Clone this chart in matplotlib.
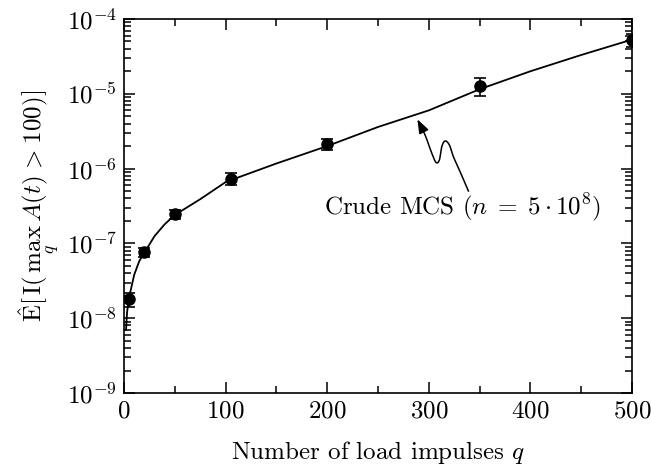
import numpy as np
import matplotlib
matplotlib.use('Agg')
import matplotlib.pyplot as plt
from matplotlib.ticker import NullFormatter

# curve: crude MCS estimate
q_curve = [2, 3, 5, 10, 15, 20, 30, 40, 50, 75, 100, 105, 150, 200, 250, 300, 350, 400, 450, 500]
p_curve = [7e-9, 1.2e-8, 1.9e-8, 3.8e-8, 5.8e-8, 7.5e-8, 1.25e-7, 1.8e-7, 2.4e-7, 3.9e-7,
           6.6e-7, 7.0e-7, 1.17e-6, 2.0e-6, 3.6e-6, 6.0e-6, 1.15e-5, 2.0e-5, 3.3e-5, 5.3e-5]

# points with error bars
q_pts = [5, 20, 50, 105, 200, 350, 500]
p_pts = [1.8e-8, 7.7e-8, 2.45e-7, 7.3e-7, 2.1e-6, 1.28e-5, 5.2e-5]
p_lo = [1.4e-8, 6.6e-8, 2.1e-7, 6.0e-7, 1.75e-6, 0.92e-5, 4.2e-5]
p_hi = [2.2e-8, 8.7e-8, 2.8e-7, 8.6e-7, 2.5e-6, 1.6e-5, 6.3e-5]

plt.rcParams['font.family'] = 'serif'
plt.rcParams['font.serif'] = ['cmr10', 'DejaVu Serif']
plt.rcParams['mathtext.fontset'] = 'cm'
plt.rcParams['axes.formatter.use_mathtext'] = True

fig = plt.figure(figsize=(6.51, 4.73), dpi=100)
ax = fig.add_axes([0.1905, 0.169, 0.7805, 0.791])

ax.plot(q_curve, p_curve, color='black', lw=1.3)
yerr = [np.array(p_pts) - np.array(p_lo), np.array(p_hi) - np.array(p_pts)]
ax.errorbar(q_pts, p_pts, yerr=yerr, fmt='o', color='black', ms=8, capsize=4, elinewidth=1.2, capthick=1.2)

ax.set_yscale('log')
ax.set_xlim(0, 500)
ax.set_ylim(1e-9, 1e-4)
ax.yaxis.set_minor_formatter(NullFormatter())
ax.set_xticks([0, 100, 200, 300, 400, 500])
ax.set_xticks(np.arange(50, 500, 100), minor=True)
ax.tick_params(which='both', direction='in', top=True, right=True, labelsize=18, width=1.1)
ax.tick_params(which='major', length=8, pad=5)
ax.tick_params(which='minor', length=5)
for s in ax.spines.values():
    s.set_linewidth(1.2)

ax.set_xlabel('Number of load impulses $q$', fontsize=18, labelpad=12)
ax.set_ylabel(r'$\hat{\mathrm{E}}[\,\mathrm{I}(\,\max_{q}\, A(t)\; >\; 100)]$', fontsize=18, labelpad=4)

# wavy annotation arrow (image pixel path converted to axes fraction)
px = np.array([417.3, 425, 431.7, 436, 439.3, 441.7, 445, 449.3, 453.3, 460, 468.3])
py = np.array([119.3, 135, 153.3, 162.5, 160, 146.7, 141, 145, 156.7, 171.7, 191])
fx = (px - 124) / 508
fy = (393 - py) / 374

# catmull-rom smoothing of the path
def smooth(p):
    p = np.concatenate([[p[0]], p, [p[-1]]])
    out = []
    for i in range(1, len(p) - 2):
        s = np.linspace(0, 1, 20, endpoint=False)
        p0, p1, p2, p3 = p[i - 1], p[i], p[i + 1], p[i + 2]
        out.append(0.5 * (2 * p1 + (-p0 + p2) * s + (2 * p0 - 5 * p1 + 4 * p2 - p3) * s ** 2
                          + (-p0 + 3 * p1 - 3 * p2 + p3) * s ** 3))
    out.append([p[-2]])
    return np.concatenate(out)

sx, sy = smooth(fx), smooth(fy)
ax.plot(sx[6:], sy[6:], color='black', lw=1.1, transform=ax.transAxes)
ax.annotate('', xy=(fx[0], fy[0]), xycoords='axes fraction',
            xytext=(sx[8], sy[8]), textcoords='axes fraction',
            arrowprops=dict(arrowstyle='-|>,head_length=0.6,head_width=0.22', color='black', lw=1.1,
                            mutation_scale=14, shrinkA=0, shrinkB=0))
ax.text((463 - 124) / 508, (393 - 207) / 374, r'Crude MCS $(n\;=\;5\cdot 10^8)$', transform=ax.transAxes,
        ha='center', va='center', fontsize=18)

fig.savefig('out.png', dpi=100)
